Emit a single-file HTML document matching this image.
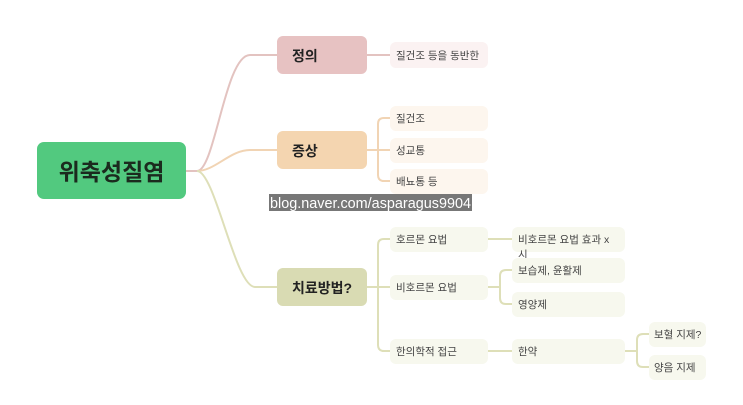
<!DOCTYPE html>
<html><head><meta charset="utf-8"><style>
html,body{margin:0;padding:0;background:#fff;}
svg{display:block;font-family:"Liberation Sans","Noto Sans CJK KR",sans-serif;}
</style></head><body>
<svg width="743" height="405" viewBox="0 0 743 405" xmlns="http://www.w3.org/2000/svg">
<g fill="none" stroke-width="2">
<path d="M186 171 H197 C215 171 225 55 250 55 H277" stroke="#e3c3c0"/>
<path d="M197 171 C215 171 230 150 250 150 H277" stroke="#f1d4b4"/>
<path d="M197 171 C215 171 235 287 255 287 H277" stroke="#dedfb8"/>
<path d="M367 55 H390" stroke="#e3c3c0"/>
<path d="M367 150 H390 M390 118 H384 Q378 118 378 124 V175 Q378 181 384 181 H390" stroke="#f1d4b4"/>
<path d="M367 287 H390 M390 239 H384 Q378 239 378 245 V345 Q378 351 384 351 H390" stroke="#dedfb8"/>
<path d="M488 239 H512 M488 287 H500 M512 270 H506 Q500 270 500 276 V298 Q500 304 506 304 H512 M488 351 H512 M625 351 H637 M649 334 H643 Q637 334 637 340 V361 Q637 367 643 367 H649" stroke="#dedfb8"/>
</g>
<rect x="37" y="142" width="149" height="57" rx="7" fill="#52c97f"/>
<text x="111.5" y="180" font-size="23" font-weight="bold" text-anchor="middle" fill="#1b2a1e">위축성질염</text>
<rect x="277" y="36" width="90" height="38" rx="6" fill="#e7c2c2"/>
<text x="292" y="61" font-size="14" font-weight="bold" fill="#222">정의</text>
<rect x="277" y="131" width="90" height="38" rx="6" fill="#f4d5b0"/>
<text x="292" y="156" font-size="14" font-weight="bold" fill="#222">증상</text>
<rect x="277" y="268" width="90" height="38" rx="6" fill="#d9dbb3"/>
<text x="292" y="293" font-size="14" font-weight="bold" fill="#222">치료방법?</text>
<g font-size="10.5" fill="#444">
<rect x="390" y="42" width="98" height="26" rx="6" fill="#fbf2f2"/><text x="396" y="59">질건조 등을 동반한</text>
<rect x="390" y="106" width="98" height="25" rx="6" fill="#fdf6ee"/><text x="396" y="122">질건조</text>
<rect x="390" y="138" width="98" height="25" rx="6" fill="#fdf6ee"/><text x="396" y="154">성교통</text>
<rect x="390" y="169" width="98" height="25" rx="6" fill="#fdf6ee"/><text x="396" y="185">배뇨통 등</text>
<rect x="390" y="227" width="98" height="25" rx="6" fill="#f7f8ee"/><text x="396" y="243">호르몬 요법</text>
<rect x="390" y="275" width="98" height="25" rx="6" fill="#f7f8ee"/><text x="396" y="291">비호르몬 요법</text>
<rect x="390" y="339" width="98" height="25" rx="6" fill="#f7f8ee"/><text x="396" y="355">한의학적 접근</text>
<rect x="512" y="227" width="113" height="25" rx="6" fill="#f7f8ee"/><text x="518" y="243">비호르몬 요법 효과 x</text><text x="518" y="258">시</text>
<rect x="512" y="258" width="113" height="25" rx="6" fill="#f7f8ee"/><text x="518" y="274">보습제, 윤활제</text>
<rect x="512" y="292" width="113" height="25" rx="6" fill="#f7f8ee"/><text x="518" y="308">영양제</text>
<rect x="512" y="339" width="113" height="25" rx="6" fill="#f7f8ee"/><text x="518" y="355">한약</text>
<rect x="649" y="322" width="57" height="25" rx="6" fill="#f7f8ee"/><text x="654" y="338">보혈 지제?</text>
<rect x="649" y="355" width="57" height="25" rx="6" fill="#f7f8ee"/><text x="654" y="371">양음 지제</text>
</g>
<rect x="269" y="194" width="203" height="17" fill="#777"/>
<text x="270" y="208" font-size="14.5" fill="#fff" textLength="201" lengthAdjust="spacingAndGlyphs">blog.naver.com/asparagus9904</text>
</svg>
</body></html>
